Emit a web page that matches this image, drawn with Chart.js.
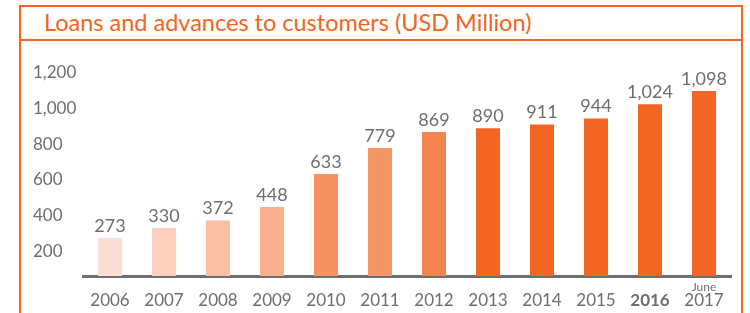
<!DOCTYPE html>
<html>
<head>
<meta charset="utf-8">
<script src="https://cdn.jsdelivr.net/npm/chart.js@4.4.0/dist/chart.umd.min.js"></script>
<style>
    body { margin: 0; background: #fff; }
    #frame {
        position: absolute; left: 19px; top: 5px; width: 724px; height: 340px;
        border: 2px solid #f26522; box-sizing: border-box;
    }
    #title {
        border-bottom: 2px solid #f26522;
        font-family: Lato, sans-serif; font-size: 23.5px; color: #f26522;
        padding-left: 23px; line-height: 30px; box-sizing: border-box; height: 34px;
    }
    #wrap { position: absolute; left: 0; top: 0; width: 750px; height: 313px; }
</style>
</head>
<body>
<div id="frame"><div id="title">Loans and advances to customers (USD Million)</div></div>
<div id="wrap"><canvas id="loansChart"></canvas></div>
<script>
var years = ['2006', '2007', '2008', '2009', '2010', '2011', '2012', '2013', '2014', '2015', '2016', '2017'];
var loans = [273, 330, 372, 448, 633, 779, 869, 890, 911, 944, 1024, 1098];
var barColors = ['#fbdfd3', '#fbd0bc', '#fabfa4', '#f9b08e', '#f69261', '#f69466', '#f4844d',
                 '#f26522', '#f26522', '#f26522', '#f26522', '#f26522'];
var yTicks = [200, 400, 600, 800, 1000, 1200];

var gray = '#6d6e71';

// value labels above the bars and the small "June" over the last year
var barLabels = {
    id: 'barLabels',
    afterDatasetsDraw(chart) {
        var ctx = chart.ctx;
        var meta = chart.getDatasetMeta(0);
        ctx.save();
        ctx.fillStyle = gray;
        ctx.textAlign = 'center';
        ctx.textBaseline = 'bottom';
        ctx.font = '18px Lato, sans-serif';
        meta.data.forEach(function (bar, i) {
            ctx.fillText(loans[i].toLocaleString('en-US'), bar.x, bar.y - 3);
        });
        var x = chart.scales.x.getPixelForValue(years.length - 1);
        ctx.font = '12px Lato, sans-serif';
        ctx.textBaseline = 'middle';
        ctx.fillText('June', x, chart.chartArea.bottom + 11);
        ctx.restore();
    }
};

var ctx = document.getElementById('loansChart').getContext('2d');
var loansChart = new Chart(ctx, {
    type: 'bar',
    data: {
        labels: years,
        datasets: [{
            data: loans,
            backgroundColor: barColors,
            barPercentage: 0.444,
            categoryPercentage: 1,
        }]
    },
    options: {
        responsive: true,
        maintainAspectRatio: false,
        animation: false,
        layout: {
            padding: { left: 33, right: 19, top: 64, bottom: 0 }
        },
        plugins: {
            legend: { display: false },
            tooltip: { enabled: false }
        },
        scales: {
            x: {
                grid: { display: false, drawTicks: false },
                border: { display: true, color: gray, width: 3 },
                afterFit: function (scale) {
                    scale.height = 37;
                },
                ticks: {
                    padding: 14,
                    color: gray,
                    font: function (c) {
                        return c.index === 10
                            ? { family: 'Lato, sans-serif', size: 17, weight: 'bold' }
                            : { family: 'Lato, sans-serif', size: 17 };
                    }
                }
            },
            y: {
                min: 60,
                max: 1250,
                grid: { display: false, drawTicks: false },
                border: { display: false },
                afterBuildTicks: function (scale) {
                    scale.ticks = yTicks.map(v => ({ value: v }));
                },
                afterFit: function (scale) {
                    scale.width = 50;
                },
                ticks: {
                    crossAlign: 'far',
                    color: gray,
                    font: { family: 'Lato, sans-serif', size: 17 },
                    callback: v => v.toLocaleString('en-US')
                }
            }
        }
    },
    plugins: [barLabels]
});
</script>
</body>
</html>
